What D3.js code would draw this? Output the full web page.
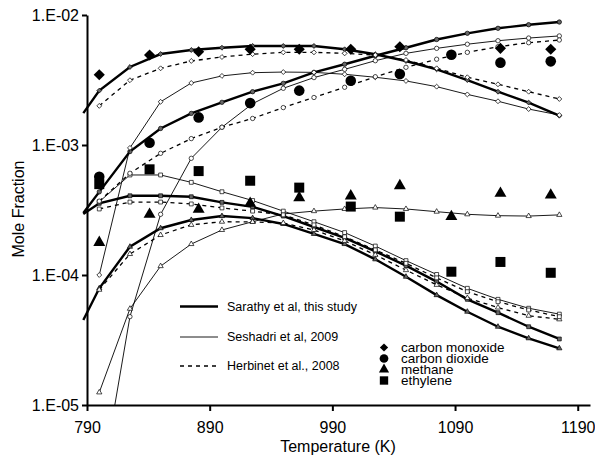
<!DOCTYPE html>
<html>
<head>
<meta charset="utf-8">
<script src="https://cdn.jsdelivr.net/npm/d3@7"></script>
<style>
  body { margin: 0; background: #fff; }
  text { font-family: "Liberation Sans", Arial, sans-serif; fill: #000; }
</style>
</head>
<body>
<div id="chart"></div>
<script>
// temperatures (K)
const modelT = [800, 825, 850, 875, 900, 925, 950, 975, 1000, 1025, 1050, 1075, 1100, 1125, 1150, 1175];
const sarathyT = [787].concat(modelT);
const exptT = [800, 841, 881, 923, 963, 1005, 1045, 1087, 1127, 1168];

// experiment
const exptCO = [3.47e-3, 4.92e-3, 5.22e-3, 5.45e-3, 5.45e-3, 5.45e-3, 5.7e-3, null, 5.54e-3, 5.45e-3];
const exptCO2 = [5.7e-4, 1.04e-3, 1.63e-3, 2.1e-3, 2.62e-3, 3.12e-3, 3.52e-3, 4.95e-3, 4.3e-3, 4.4e-3];
const exptCH4 = [1.78e-4, 2.93e-4, 3.2e-4, 3.56e-4, 3.93e-4, 4.05e-4, 4.86e-4, 2.81e-4, 4.25e-4, 4.12e-4];
const exptC2H4 = [5.0e-4, 6.5e-4, 6.3e-4, 5.31e-4, 4.7e-4, 3.36e-4, 2.81e-4, 1.06e-4, 1.26e-4, 1.04e-4];

// Sarathy et al (first value at 787 K)
const sarathyCO = [1.76e-3, 2.62e-3, 3.98e-3, 5.01e-3, 5.38e-3, 5.6e-3, 5.78e-3, 5.78e-3, 5.78e-3, 5.45e-3, 4.99e-3, 4.43e-3, 3.82e-3, 3.16e-3, 2.57e-3, 2.12e-3, 1.68e-3];
const sarathyCO2 = [3.0e-4, 4.36e-4, 8.9e-4, 1.34e-3, 1.75e-3, 2.13e-3, 2.57e-3, 2.98e-3, 3.62e-3, 4.18e-3, 4.86e-3, 5.6e-3, 6.48e-3, 7.23e-3, 7.9e-3, 8.42e-3, 8.83e-3];
const sarathyCH4 = [4.5e-5, 7.9e-5, 1.65e-4, 2.29e-4, 2.65e-4, 2.84e-4, 2.74e-4, 2.47e-4, 2.07e-4, 1.73e-4, 1.32e-4, 9.7e-5, 7.0e-5, 5.22e-5, 4.0e-5, 3.26e-5, 2.73e-5];
const sarathyC2H4 = [2.95e-4, 3.56e-4, 4.07e-4, 4.07e-4, 4.0e-4, 3.62e-4, 3.34e-4, 2.84e-4, 2.34e-4, 1.93e-4, 1.52e-4, 1.18e-4, 8.9e-5, 6.5e-5, 5.13e-5, 4.0e-5, 3.22e-5];

// Seshadri et al
const seshadriCO = [1.0e-4, 9.5e-4, 2.15e-3, 3.0e-3, 3.4e-3, 3.6e-3, 3.64e-3, 3.62e-3, 3.5e-3, 3.32e-3, 3.11e-3, 2.81e-3, 2.45e-3, 2.17e-3, 1.89e-3, 1.7e-3];
const seshadriCO2 = [2.0e-6, 4.78e-5, 2.93e-4, 7.9e-4, 1.37e-3, 2.08e-3, 2.73e-3, 3.3e-3, 3.82e-3, 4.45e-3, 5.07e-3, 5.54e-3, 5.96e-3, 6.34e-3, 6.65e-3, 6.9e-3];
const seshadriCH4 = [1.25e-5, 5.5e-5, 1.17e-4, 1.73e-4, 2.22e-4, 2.57e-4, 2.95e-4, 3.1e-4, 3.22e-4, 3.3e-4, 3.22e-4, 3.07e-4, 2.93e-4, 2.86e-4, 2.84e-4, 2.9e-4];
const seshadriC2H4 = [3.66e-4, 5.88e-4, 5.88e-4, 5.16e-4, 4.37e-4, 3.74e-4, 3.1e-4, 2.57e-4, 2.12e-4, 1.67e-4, 1.29e-4, 1.01e-4, 7.9e-5, 6.5e-5, 5.55e-5, 5.0e-5];

// Herbinet et al
const herbinetCO = [2.0e-3, 3.15e-3, 3.89e-3, 4.43e-3, 4.75e-3, 5.0e-3, 5.16e-3, 5.16e-3, 5.07e-3, 4.92e-3, 4.51e-3, 3.89e-3, 3.32e-3, 2.93e-3, 2.57e-3, 2.26e-3];
const herbinetCO2 = [3.7e-4, 6.06e-4, 8.63e-4, 1.12e-3, 1.37e-3, 1.6e-3, 1.94e-3, 2.32e-3, 2.78e-3, 3.35e-3, 3.96e-3, 4.57e-3, 5.16e-3, 5.7e-3, 6.12e-3, 6.42e-3];
const herbinetCH4 = [7.7e-5, 1.45e-4, 2.03e-4, 2.43e-4, 2.57e-4, 2.56e-4, 2.51e-4, 2.22e-4, 1.83e-4, 1.43e-4, 1.09e-4, 8.4e-5, 6.65e-5, 5.62e-5, 4.86e-5, 4.56e-5];
const herbinetC2H4 = [3.22e-4, 3.64e-4, 3.64e-4, 3.52e-4, 3.28e-4, 3.1e-4, 2.9e-4, 2.43e-4, 1.97e-4, 1.56e-4, 1.23e-4, 9.5e-5, 7.44e-5, 6.23e-5, 5.38e-5, 4.78e-5];

const xTicks = [790, 890, 990, 1090, 1190];
const yTicks = [1e-5, 1e-4, 1e-3, 1e-2];
const speciesNames = ["carbon monoxide", "carbon dioxide", "methane", "ethylene"];
const modelNames = ["Sarathy et al, this study", "Seshadri et al, 2009", "Herbinet et al., 2008"];

const width = 595, height = 462;
const svg = d3.select("#chart").append("svg")
    .attr("width", width)
    .attr("height", height);

const x = d3.scaleLinear().domain([790, 1200]).range([87, 590]);
const y = d3.scaleLog().domain([1e-5, 1e-2]).range([405, 15]);

// diamond = square turned 45 deg
const shapes = [d3.symbolSquare, d3.symbolCircle, d3.symbolTriangle, d3.symbolSquare];
const rot = [45, 0, 0, 0];
const bigSize = [62, 88, 62, 100];
const smallSize = [12, 15, 12, 15];
const legSize = [34, 60, 45, 70];

const place = (s, px, py) => "translate(" + px + "," + py + ") rotate(" + rot[s] + ")";

svg.append("defs").append("clipPath").attr("id", "plotclip")
    .append("rect")
    .attr("x", x(786)).attr("y", y(1e-2) - 5)
    .attr("width", x(1200) - x(786)).attr("height", y(1e-5) - y(1e-2) + 5);

const plot = svg.append("g").attr("clip-path", "url(#plotclip)");

const line = d3.line().x(d => x(d[0])).y(d => y(d[1]));

const models = [
    {T: sarathyT, series: [sarathyCO, sarathyCO2, sarathyCH4, sarathyC2H4], width: 2.4, dash: null, fill: "#666"},
    {T: modelT, series: [seshadriCO, seshadriCO2, seshadriCH4, seshadriC2H4], width: 0.9, dash: null, fill: "#fff"},
    {T: modelT, series: [herbinetCO, herbinetCO2, herbinetCH4, herbinetC2H4], width: 1.3, dash: "4,4", fill: "#fff"}
];

models.forEach(m => {
    m.series.forEach((vals, s) => {
        const pts = m.T.map((t, i) => [t, vals[i]]);
        plot.append("path")
            .attr("d", line(pts))
            .attr("fill", "none")
            .attr("stroke", "#000")
            .attr("stroke-width", m.width)
            .attr("stroke-dasharray", m.dash);
        plot.selectAll(null)
            .data(pts.filter(p => p[0] >= 800))
            .enter().append("path")
            .attr("transform", p => place(s, x(p[0]), y(p[1])))
            .attr("d", d3.symbol().type(shapes[s]).size(smallSize[s]))
            .attr("fill", m.fill)
            .attr("stroke", "#000")
            .attr("stroke-width", 0.7);
    });
});

// experimental symbols
[exptCO, exptCO2, exptCH4, exptC2H4].forEach((vals, s) => {
    const pts = exptT.map((t, i) => [t, vals[i]]).filter(p => p[1] != null);
    svg.selectAll(null)
        .data(pts)
        .enter().append("path")
        .attr("transform", p => place(s, x(p[0]), y(p[1])))
        .attr("d", d3.symbol().type(shapes[s]).size(bigSize[s]))
        .attr("fill", "#000");
});

// axes
const xAxis = svg.append("g")
    .attr("transform", "translate(0," + y(1e-5) + ")")
    .call(d3.axisBottom(x).tickValues(xTicks).tickSize(6).tickSizeOuter(0).tickFormat(d3.format("d")));
const yAxis = svg.append("g")
    .attr("transform", "translate(" + x(790) + ",0)")
    .call(d3.axisLeft(y).tickValues(yTicks).tickSize(5).tickSizeOuter(0)
        .tickFormat(d => "1.E-" + String(-Math.round(Math.log10(d))).padStart(2, "0")));
[xAxis, yAxis].forEach(a => {
    a.select(".domain").attr("stroke-width", 2);
    a.selectAll(".tick line").attr("stroke-width", 2);
    a.selectAll("text").attr("font-size", 16).attr("fill", "#000")
        .attr("font-family", "'Liberation Sans', Arial, sans-serif");
});
xAxis.selectAll("text").attr("dy", "1.2em");

svg.append("text")
    .attr("x", 338).attr("y", 452)
    .attr("text-anchor", "middle")
    .attr("font-size", 16)
    .text("Temperature (K)");
svg.append("text")
    .attr("transform", "translate(24,209) rotate(-90)")
    .attr("text-anchor", "middle")
    .attr("font-size", 16)
    .text("Mole Fraction");

// model legend
const legY = [306.5, 337, 366];
modelNames.forEach((name, i) => {
    svg.append("line")
        .attr("x1", 180).attr("x2", 218)
        .attr("y1", legY[i]).attr("y2", legY[i])
        .attr("stroke", "#000")
        .attr("stroke-width", models[i].width)
        .attr("stroke-dasharray", models[i].dash);
    svg.append("text")
        .attr("x", 227).attr("y", legY[i] + 4)
        .attr("font-size", 12.5)
        .text(name);
});

// species legend
speciesNames.forEach((name, i) => {
    const yy = 347.5 + i * 11;
    svg.append("path")
        .attr("transform", place(i, 384, yy))
        .attr("d", d3.symbol().type(shapes[i]).size(legSize[i]))
        .attr("fill", "#000");
    svg.append("text")
        .attr("x", 401).attr("y", yy + 4.5)
        .attr("font-size", 13.5)
        .text(name);
});
</script>
</body>
</html>
